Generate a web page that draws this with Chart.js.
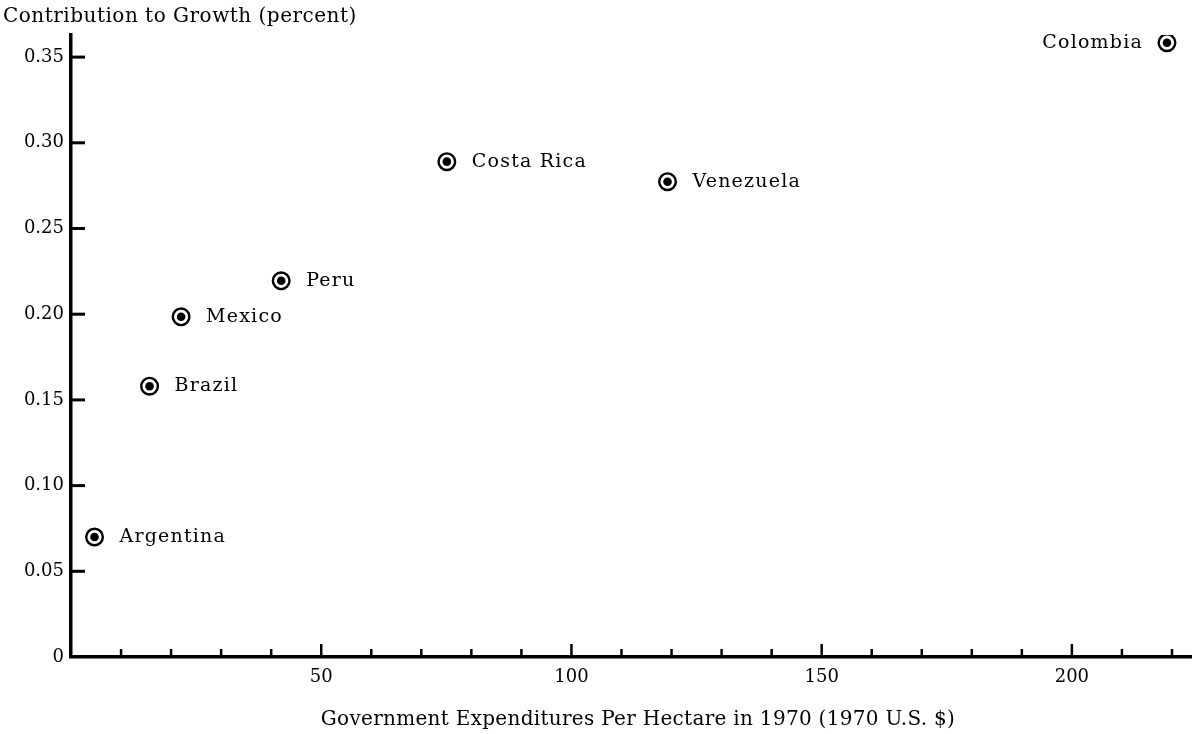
<!DOCTYPE html>
<html><head><meta charset="utf-8">
<script src="https://cdn.jsdelivr.net/npm/chart.js@4.4.1/dist/chart.umd.min.js"></script>
<style>html,body{margin:0;padding:0;background:#fff;overflow:hidden}</style>
</head><body>
<canvas id="c" width="1192" height="734" style="width:1192px;height:734px;display:block"></canvas>
<script>
const countries = ['Argentina','Brazil','Mexico','Peru','Costa Rica','Venezuela','Colombia'];
const expenditure = [4.7, 15.7, 22.0, 42.0, 75.1, 119.2, 219.0];
const contribution = [0.070, 0.158, 0.1985, 0.2195, 0.289, 0.2773, 0.3584];
const yTicks = [0, 0.05, 0.10, 0.15, 0.20, 0.25, 0.30, 0.35];
const yTickLabels = ['0','0.05','0.10','0.15','0.20','0.25','0.30','0.35'];
const xTicks = [50, 100, 150, 200];
const xTickLabels = ['50','100','150','200'];
const xMinorTicks = [10,20,30,40,50,60,70,80,90,100,110,120,130,140,150,160,170,180,190,200,210,220];
const labelOnLeft = ['Colombia'];
const yTitle = 'Contribution to Growth (percent)';
const xTitle = 'Government Expenditures Per Hectare in 1970 (1970 U.S. $)';

const FONT = '"DejaVu Serif", serif';
const INK = '#000';

const points = expenditure.map((x, i) => ({x: x, y: contribution[i]}));

const decorPlugin = {
  id: 'decor',
  afterDraw(chart) {
    const ctx = chart.ctx, xs = chart.scales.x, ys = chart.scales.y, ca = chart.chartArea;
    ctx.save();
    ctx.strokeStyle = INK;
    ctx.lineCap = 'butt';
    // y tick marks (inward)
    ctx.lineWidth = 3;
    yTicks.forEach(v => {
      if (v === 0) return;
      const py = ys.getPixelForValue(v);
      ctx.beginPath(); ctx.moveTo(ca.left, py); ctx.lineTo(ca.left + 14, py); ctx.stroke();
    });
    // x tick marks (inward)
    ctx.lineWidth = 2.5;
    xMinorTicks.forEach(v => {
      const px = xs.getPixelForValue(v);
      const len = (v % 50 === 0) ? 13 : 8;
      ctx.beginPath(); ctx.moveTo(px, ca.bottom); ctx.lineTo(px, ca.bottom - len); ctx.stroke();
    });
    // titles
    ctx.fillStyle = INK;
    ctx.textBaseline = 'alphabetic';
    ctx.font = '20px ' + FONT;
    ctx.letterSpacing = '0.5px';
    ctx.textAlign = 'left';
    ctx.fillText(yTitle, 3, 22);
    ctx.letterSpacing = '0.3px';
    ctx.textAlign = 'center';
    ctx.fillText(xTitle, 638, 725);
    // point labels
    ctx.font = '19px ' + FONT;
    ctx.letterSpacing = '1.2px';
    const meta = chart.getDatasetMeta(0);
    countries.forEach((name, i) => {
      const el = meta.data[i];
      if (labelOnLeft.includes(name)) {
        ctx.textAlign = 'right';
        ctx.fillText(name, el.x - 24, el.y + 5);
      } else {
        ctx.textAlign = 'left';
        ctx.fillText(name, el.x + 25, el.y + 5);
      }
    });
    ctx.restore();
  }
};

function zeroPad(s) { s.paddingLeft = 0; s.paddingRight = 0; s.paddingTop = 0; s.paddingBottom = 0; }

new Chart(document.getElementById('c'), {
  type: 'scatter',
  data: {
    datasets: [
      { label: 'ring', order: 1, data: points, pointRadius: 8.3, pointHoverRadius: 8.3, pointBackgroundColor: 'rgba(255,255,255,0)', pointBorderColor: INK, pointBorderWidth: 2.4 },
      { label: 'dot', order: 0, data: points, pointRadius: 4.3, pointHoverRadius: 4.3, pointBackgroundColor: INK, pointBorderWidth: 0 }
    ]
  },
  options: {
    responsive: false,
    animation: false,
    devicePixelRatio: 1,
    layout: { autoPadding: false, padding: { top: 35, left: 0, right: 0, bottom: 0 } },
    plugins: { legend: { display: false }, tooltip: { enabled: false }, title: { display: false } },
    scales: {
      x: {
        type: 'linear', min: 0, max: 224,
        afterBuildTicks: s => { s.ticks = xTicks.map(v => ({value: v})); },
        afterFit: s => { s.height = 77; zeroPad(s); },
        grid: { display: false, drawTicks: false, drawOnChartArea: false },
        border: { display: true, width: 3.5, color: INK },
        ticks: { padding: 10, color: INK, font: { family: FONT, size: 18 }, autoSkip: false, maxRotation: 0,
          callback: v => { const i = xTicks.indexOf(v); return i >= 0 ? xTickLabels[i] : ''; } }
      },
      y: {
        type: 'linear', min: 0, max: 0.3629,
        afterBuildTicks: s => { s.ticks = yTicks.map(v => ({value: v})); },
        afterFit: s => { s.width = 71; zeroPad(s); },
        grid: { display: false, drawTicks: false, drawOnChartArea: false },
        border: { display: true, width: 3.5, color: INK },
        ticks: { padding: 7, color: INK, font: { family: FONT, size: 18 }, autoSkip: false,
          callback: v => { const i = yTicks.findIndex(t => Math.abs(t - v) < 1e-9); return i >= 0 ? yTickLabels[i] : ''; } }
      }
    }
  },
  plugins: [decorPlugin]
});
</script>
</body></html>
